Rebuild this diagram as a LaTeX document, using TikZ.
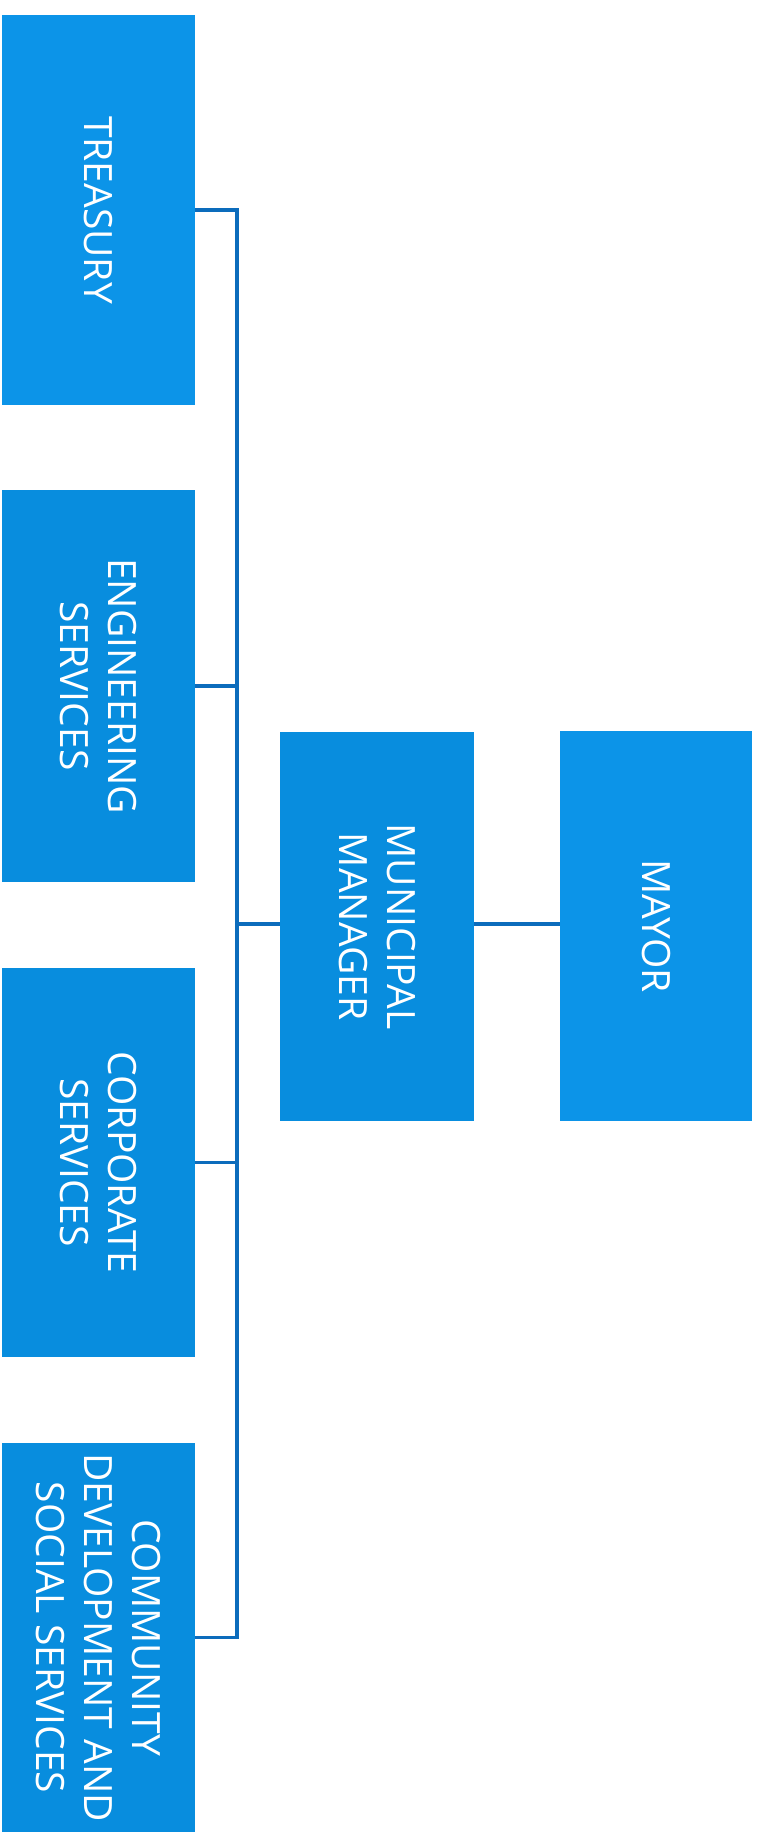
\documentclass[tikz,border=0pt]{standalone}
\usepackage{fontspec}
\setmainfont{Open Sans}
\definecolor{boxblue}{RGB}{8,141,222}
\definecolor{boxlight}{RGB}{12,148,232}
\definecolor{linkblue}{RGB}{12,108,188}
\begin{document}
\begin{tikzpicture}[x=1pt,y=-1pt,
  box/.style={fill=boxblue, draw=none, inner sep=0pt, minimum width=193pt, minimum height=390pt},
  lbl/.style={rotate=-90, text=white, align=center, inner sep=0pt, font=\fontsize{39}{48}\selectfont},
  conn/.style={draw=linkblue, line width=3.4pt}]
\useasboundingbox[fill=white] (0,0) rectangle (764,1839);
\node[box, fill=boxlight] (tre) at (98.5,210) {};
\node[lbl] (tret) at (tre.center) {TREASURY};
\node[box, minimum height=392pt] (eng) at (98,686) {};
\node[lbl] (engt) at (eng.center) {ENGINEERING\\SERVICES};
\node[box, minimum height=389pt] (cor) at (98,1162.5) {};
\node[lbl] (cort) at (cor.center) {CORPORATE\\SERVICES};
\node[box, minimum height=389pt] (com) at (98,1637.5) {};
\node[lbl] (comt) at (com.center) {COMMUNITY\\DEVELOPMENT AND\\SOCIAL SERVICES};
\node[box, minimum width=194pt, minimum height=389pt] (mm) at (377,926.5) {};
\node[lbl] (mmt) at (mm.center) {MUNICIPAL\\MANAGER};
\node[box, fill=boxlight, minimum width=192pt, minimum height=390pt] (may) at (656,926) {};
\node[lbl] (mayt) at (may.center) {MAYOR};
\coordinate (bus) at (237,924);
\draw[conn] (tre.east) -| (bus) |- (com.east);
\draw[conn] (eng.east) -- (eng.east -| bus);
\draw[conn] (cor.east) -- (cor.east -| bus);
\draw[conn] (bus) -- (bus -| mm.west);
\draw[conn] (mm.east |- bus) -- (may.west |- bus);
\end{tikzpicture}
\end{document}
